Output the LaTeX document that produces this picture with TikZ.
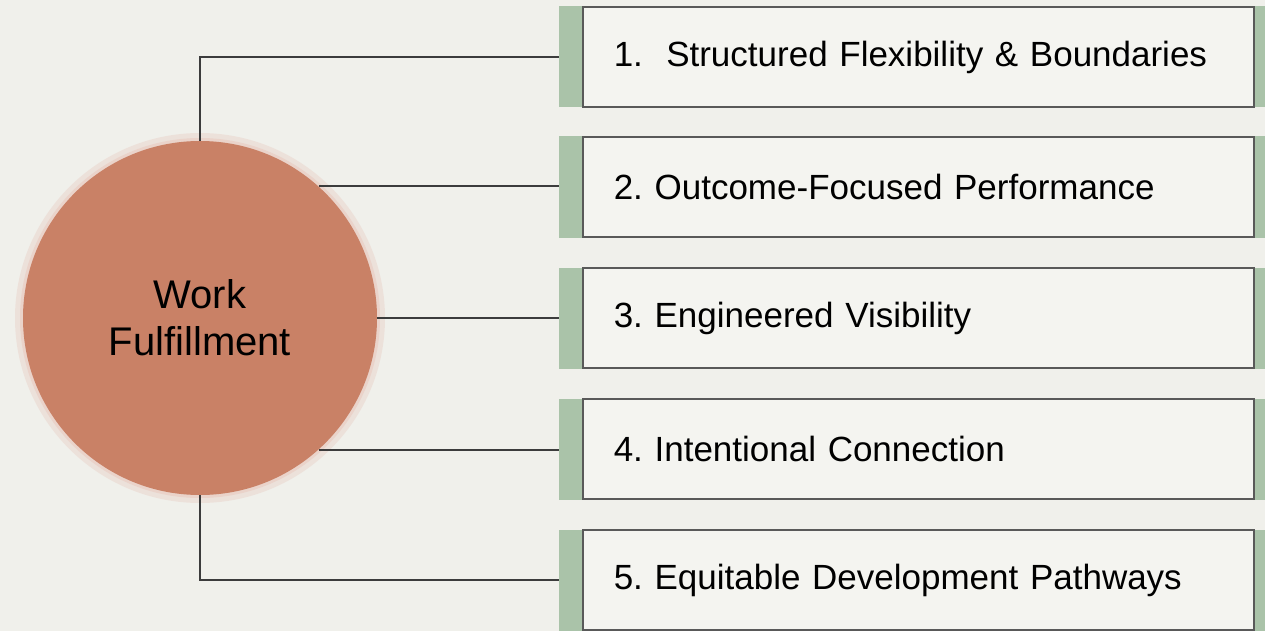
\documentclass[tikz,border=0pt]{standalone}
\usepackage{fontspec}
\setmainfont{Liberation Sans}
\usetikzlibrary{calc}
\definecolor{PaperBg}{HTML}{F0F0EB}
\definecolor{BoxFill}{HTML}{F4F4F0}
\definecolor{SageGreen}{HTML}{AAC3A9}
\definecolor{Terracotta}{HTML}{C98166}
\definecolor{TerracottaHalo}{HTML}{EAD3CA}
\definecolor{LineGray}{HTML}{3C3C3C}
\tikzstyle{hub} = [circle, fill=Terracotta, minimum size=354pt, inner sep=0pt, align=center, font=\fontsize{40}{47}\selectfont]
\tikzstyle{strip} = [rectangle, fill=SageGreen, minimum width=706pt, minimum height=101pt, inner sep=0pt, anchor=west]
\tikzstyle{item} = [rectangle, draw=LineGray!85, line width=1.5pt, fill=BoxFill, minimum height=100pt, text width=609pt, inner xsep=31pt, inner ysep=0pt, align=left, anchor=west, font=\fontsize{35}{40}\selectfont\frenchspacing]
\tikzstyle{link} = [draw=LineGray, line width=1.8pt]

\begin{document}
\begin{tikzpicture}[x=1pt, y=-1pt]
	\useasboundingbox (0,0) rectangle (1265,631);
	\fill[PaperBg] (0,0) rectangle (1265,631);

	% soft rim round the hub
	\fill[TerracottaHalo, opacity=0.5] (200,318) circle (185pt);
	\fill[TerracottaHalo] (200,318) circle (180pt);
	\node[hub] (hub) at (200,318) {Work\\Fulfillment};

	\foreach \i/\y/\t in {1/57/{1.\ \ Structured Flexibility \& Boundaries},
		2/187/{2. Outcome-Focused Performance},
		3/318/{3. Engineered Visibility},
		4/449/{4. Intentional Connection},
		5/580/{5. Equitable Development Pathways}} {
		\node[strip] (s\i) at (559,\y) {};
		\node[item] (b\i) at (582,\y) {\t};
	}

	\draw[link] (hub.north) |- (s1.west);
	\draw[link] (hub.48) -- (hub.48 -| s2.west);
	\draw[link] (hub.east) -- (s3.west);
	\draw[link] (hub.-48) -- (hub.-48 -| s4.west);
	\draw[link] (hub.south) |- (s5.west);
\end{tikzpicture}
\end{document}
